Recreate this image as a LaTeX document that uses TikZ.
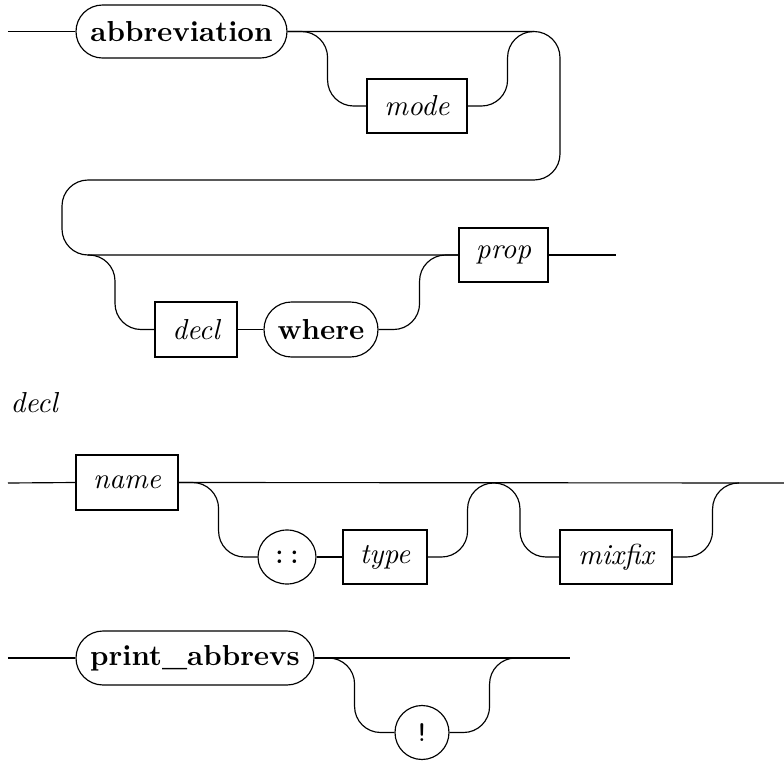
\documentclass[tikz,border=0pt]{standalone}
\usetikzlibrary{shapes.geometric,shapes.misc}
\def\pu{0.346pt}
\begin{document}
\begin{tikzpicture}[x=0.346pt,y=-0.346pt,line width=0.4pt,
  rr/.style={rounded corners=9pt},
  ntbox/.style={draw,rectangle,inner sep=0pt,font=\itshape,minimum height=54*\pu},
  kwbox/.style={draw,rounded rectangle,inner sep=0pt,font=\bfseries,minimum height=53*\pu},
  litell/.style={draw,ellipse,inner sep=0pt,font=\ttfamily,minimum height=54*\pu},
  litcirc/.style={draw,circle,inner sep=0pt,font=\ttfamily,minimum size=54*\pu}]
\useasboundingbox (0,0) rectangle (784,761);
% ---- abbreviation ----
\node[kwbox,minimum width=211*\pu] (abbr) at (181.5,31.5) {abbreviation};
\node[ntbox,minimum width=100*\pu] (mode) at (417,106) {mode};
\node[ntbox,minimum width=89*\pu] (prop) at (503.5,255) {prop};
\node[ntbox,minimum width=82*\pu,minimum height=55*\pu] (decl) at (196,329.5) {decl};
\node[kwbox,minimum width=114*\pu,minimum height=55*\pu] (where) at (321,329.5) {where};
\coordinate (s1) at (8,31.5);
\coordinate (e1) at (616,255);
\coordinate (j1) at (88,255);
\coordinate (j2) at (533,31.5);
\draw (s1) -- (abbr.west);
\draw[rr] (abbr.east) -- (560,31.5) -- (560,180) -- (62,180) -- (62,255) -- (prop.west);
\draw[rr] (abbr.east) -- ++(40,0) |- (mode.west);
\draw[rr] (mode.east) -- ++(40,0) |- (j2);
\draw[rr] (j1) -- (115,255) |- (decl.west);
\draw (decl.east) -- (where.west);
\draw[rr] (where.east) -- ++(41,0) |- (prop.west);
\draw (prop.east) -- (e1);
% ---- decl ----
\node[anchor=base west,inner sep=0pt,font=\itshape] (lbl) at (10,412) {decl};
\node[ntbox,minimum width=102*\pu,minimum height=55*\pu] (name) at (127,482.5) {name};
\node[litell,minimum width=58*\pu] (colon) at (287,557) {::};
\node[ntbox,minimum width=84*\pu] (type) at (385,557) {type};
\node[ntbox,minimum width=112*\pu] (mixfix) at (616,557) {mixfix};
\coordinate (s2) at (8,483);
\coordinate (e2) at (784,483);
\coordinate (j3) at (494,483);
\coordinate (j4) at (739,483);
\draw (s2) -- (name.west);
\draw (name.east) -- (e2);
\draw[rr] (name.east) -- ++(40,0) |- (colon.west);
\draw (colon.east) -- (type.west);
\draw[rr] (type.east) -- ++(40,0) |- (j3);
\draw[rr] (j3) -- (520,483) |- (mixfix.west);
\draw[rr] (mixfix.east) -- ++(40,0) |- (j4);
% ---- print_abbrevs ----
\node[kwbox,minimum width=238*\pu,minimum height=54*\pu] (pa) at (195,658) {print\_abbrevs};
\node[litcirc] (bang) at (422,732.5) {!};
\coordinate (s3) at (8,658);
\coordinate (e3) at (570,658);
\coordinate (j5) at (515,658);
\draw (s3) -- (pa.west);
\draw (pa.east) -- (e3);
\draw[rr] (pa.east) -- ++(40,0) |- (bang.west);
\draw[rr] (bang.east) -- ++(40,0) |- (j5);
\end{tikzpicture}
\end{document}
